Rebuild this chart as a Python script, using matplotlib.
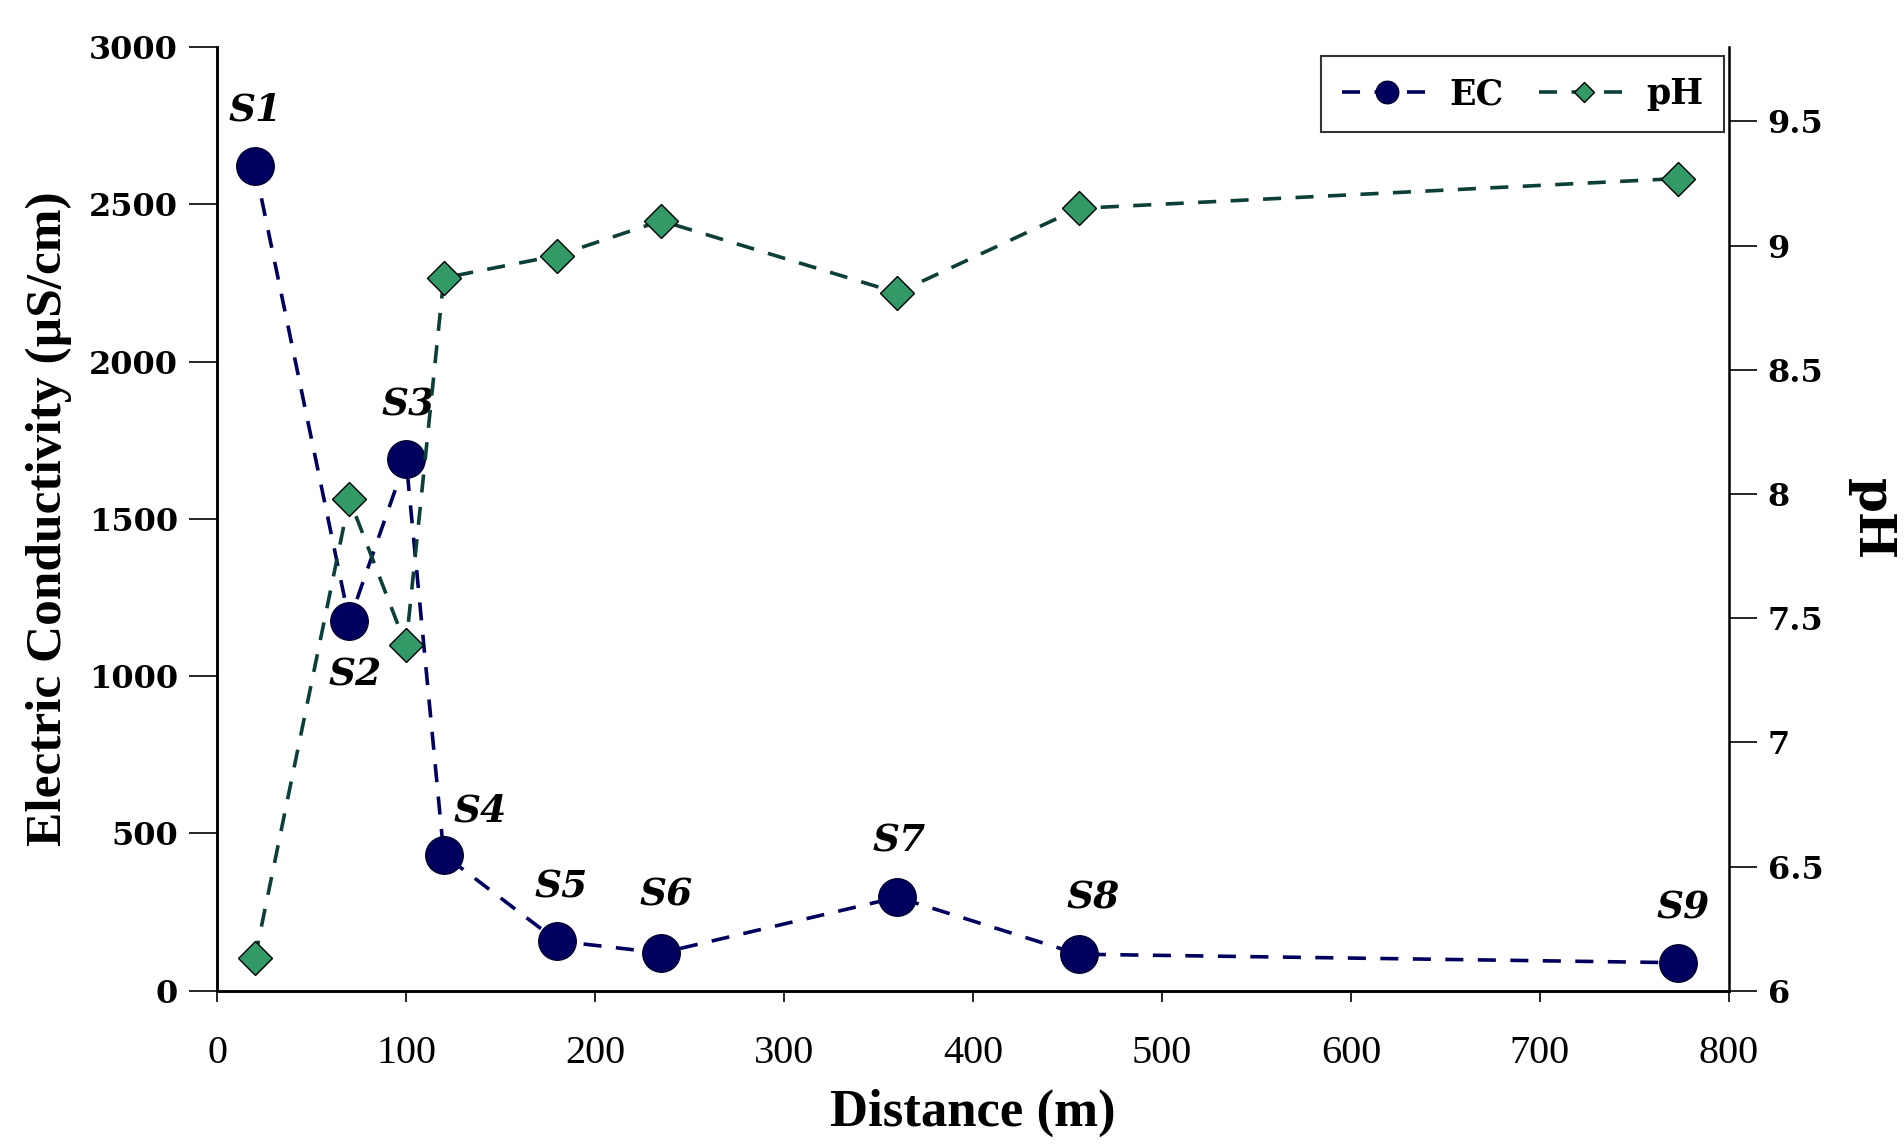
import numpy as np
import matplotlib.pyplot as plt

# Datos
distance = [20, 70, 100, 120, 180, 235, 360, 456, 773]
ec = [2620, 1175, 1690, 432, 158, 120, 297, 116, 89]
ph = [6.13, 7.98, 7.39, 8.87, 8.96, 9.10, 8.81, 9.15, 9.27]
sites = ['S1', 'S2', 'S3', 'S4', 'S5', 'S6', 'S7', 'S8', 'S9']

# desplazamiento de las etiquetas (pixeles)
offsets = [(0, 56), (6, -54), (2, 54), (36, 44), (4, 54), (5, 58), (2, 56), (14, 56), (5, 55)]

navy = '#00005e'
teal = '#0b3f38'
green = '#339966'

fig = plt.figure(figsize=(19.04, 11.44), dpi=100)
ax = fig.add_axes([0.114, 0.134, 0.794, 0.825])
ax2 = ax.twinx()

l1, = ax.plot(distance, ec, color=navy, ls=(0, (5, 4)), lw=2.6, marker='o', ms=27,
              mfc=navy, mec='#000030', mew=1, label='EC', zorder=3)
l2, = ax2.plot(distance, ph, color=teal, ls=(0, (5, 4)), lw=2.6, marker='D', ms=17,
               mfc=green, mec='black', mew=1, label='pH', zorder=3)

for s, x, y, (dx, dy) in zip(sites, distance, ec, offsets):
    ax.annotate(s, (x, y), xytext=(dx, dy), textcoords='offset pixels', ha='center', va='center',
                fontsize=27, fontweight='bold', fontstyle='italic', family='DejaVu Serif')

ax.set_xlim(0, 800)
ax.set_ylim(0, 3000)
ax2.set_ylim(6, 9.8)
ax.set_xticks(np.arange(0, 801, 100))
ax.set_yticks(np.arange(0, 3001, 500))
ax2.set_yticks(np.arange(6, 9.51, 0.5))
ax2.set_yticklabels(['6', '6.5', '7', '7.5', '8', '8.5', '9', '9.5'])

for a in (ax, ax2):
    a.spines['top'].set_visible(False)
    for sp in a.spines.values():
        sp.set_linewidth(1.8)
ax.spines['right'].set_visible(False)

ax.tick_params(axis='y', direction='out', length=20, width=1.2, pad=8)
ax.tick_params(axis='x', direction='out', length=8, width=1.2, pad=24)
ax2.tick_params(axis='y', direction='out', length=20, width=1.2, pad=8)

for t in ax.get_yticklabels() + ax2.get_yticklabels():
    t.set_family('DejaVu Serif')
    t.set_fontweight('bold')
    t.set_fontsize(23)
for t in ax.get_xticklabels():
    t.set_family('Liberation Serif')
    t.set_fontsize(29)

ax.set_xlabel('Distance (m)', fontsize=38, fontweight='bold', family='Liberation Serif', labelpad=12)
ax.set_ylabel('Electric Conductivity (µS/cm)', fontsize=37, fontweight='bold',
              family='Liberation Serif', labelpad=12)
ax2.set_ylabel('pH', fontsize=36, fontweight='bold', family='DejaVu Serif', rotation=270, labelpad=52)

leg = ax.legend([l1, l2], ['EC', 'pH'], loc='upper right', ncol=2, fancybox=False,
                prop={'family': 'DejaVu Serif', 'weight': 'bold', 'size': 25},
                bbox_to_anchor=(0.997, 0.99), borderaxespad=0, borderpad=0.6,
                handlelength=2.6, handletextpad=0.5, columnspacing=1.0, markerscale=0.6)
leg.get_frame().set_edgecolor('black')
leg.get_frame().set_linewidth(1.5)

plt.savefig('out.png')
